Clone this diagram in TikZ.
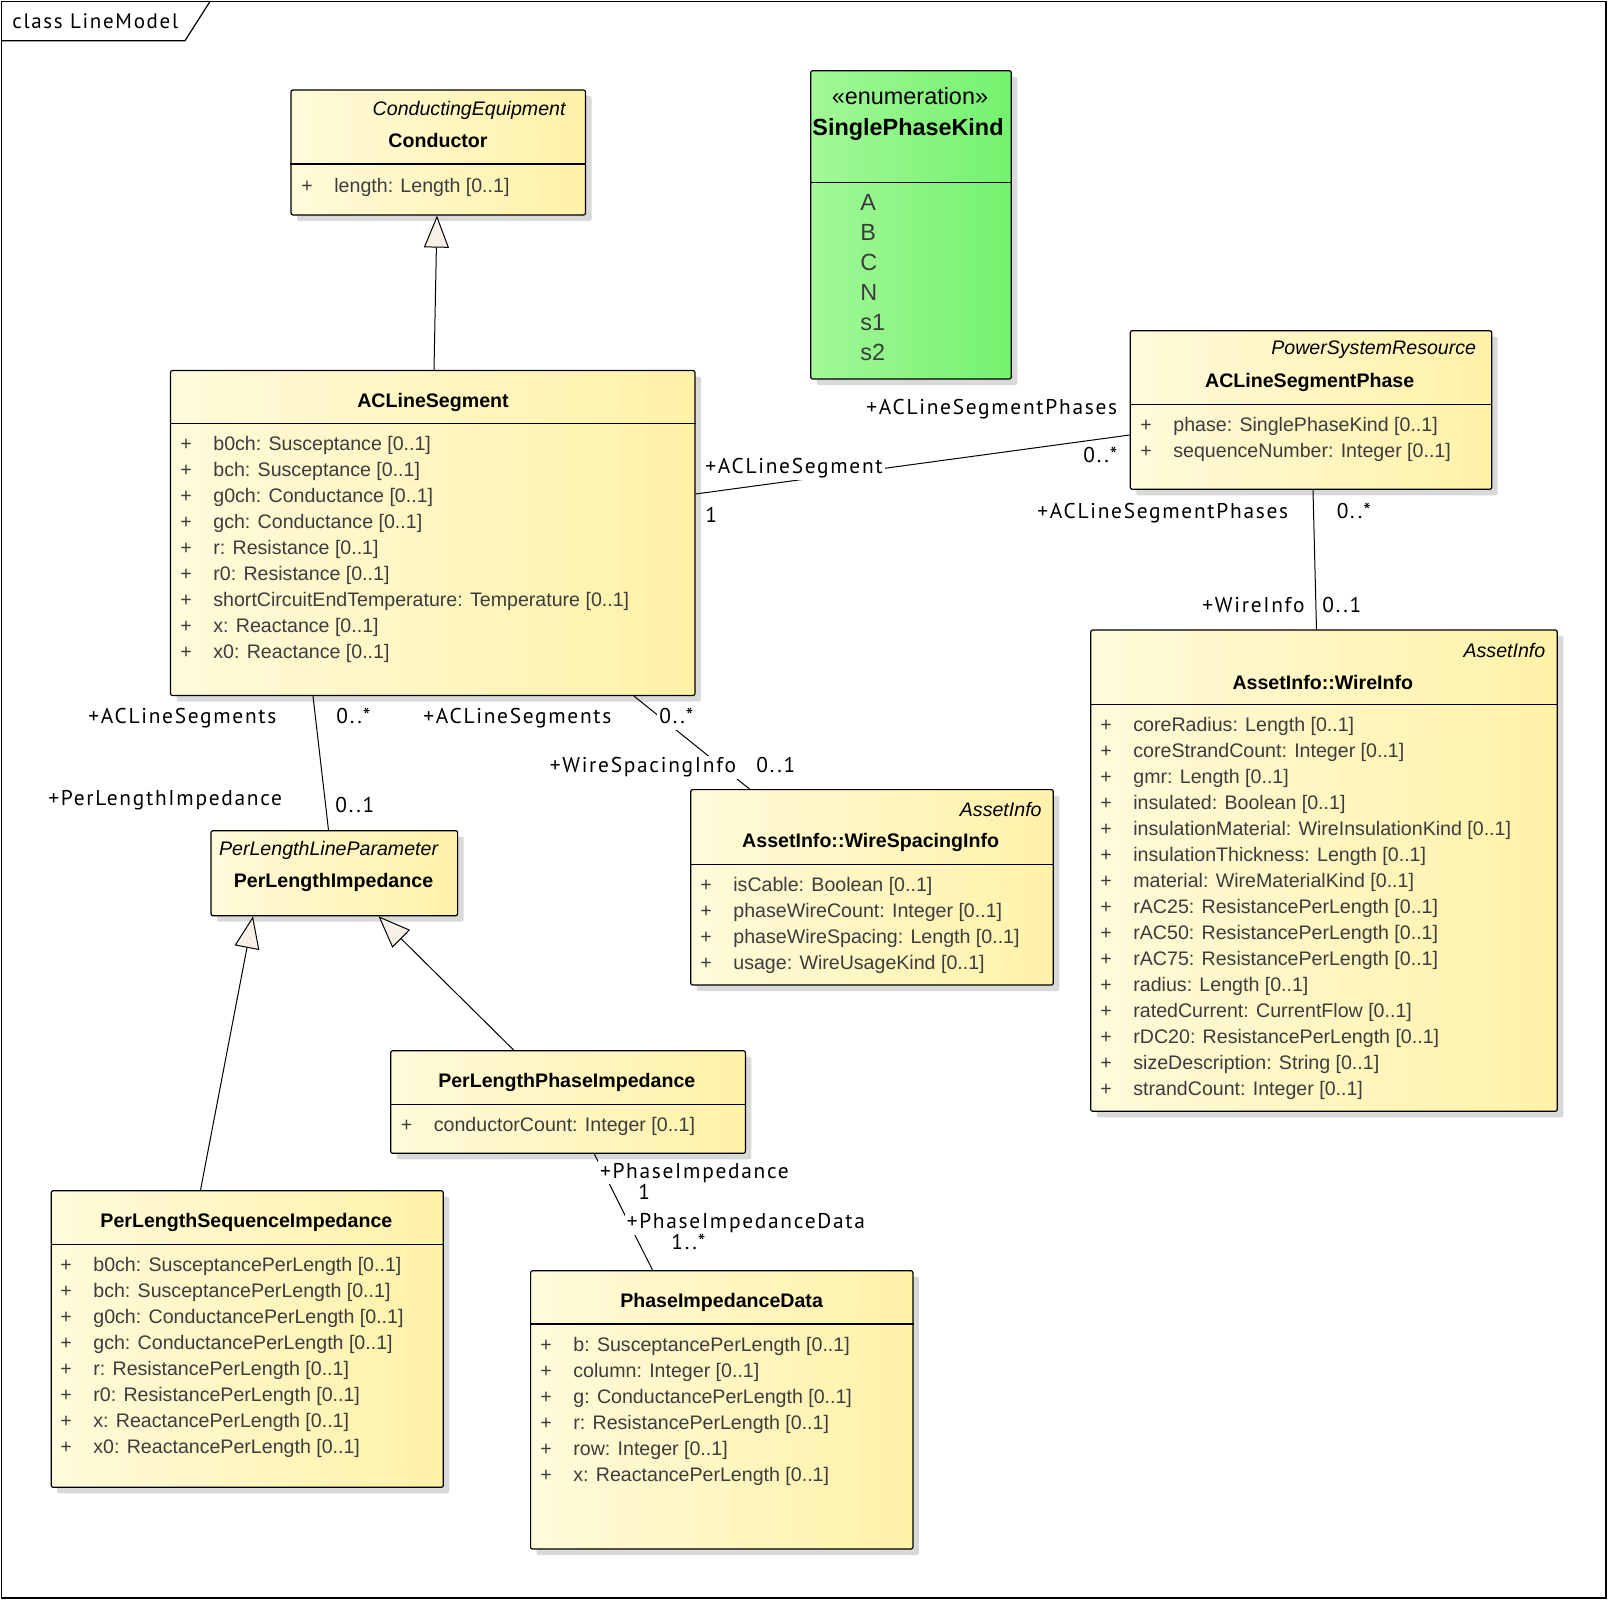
\documentclass[tikz,border=0pt]{standalone}
\usepackage{fontspec}
\setmainfont{Liberation Sans}
\newfontfamily\rolefont{PT Sans}[LetterSpace=8]
\usetikzlibrary{positioning, calc, arrows.meta, shadows, fit}

\definecolor{boxL}{RGB}{255,250,218}
\definecolor{boxR}{RGB}{255,242,168}
\definecolor{enumL}{RGB}{162,248,152}
\definecolor{enumR}{RGB}{116,242,110}
\definecolor{attrgray}{RGB}{60,60,60}
\definecolor{genfill}{RGB}{246,240,232}

\newcommand{\attrsize}{\fontsize{9.8}{12}\selectfont}
\newcommand{\enumsize}{\fontsize{11.7}{14}\selectfont}
\newcommand{\rolesize}{\fontsize{10.7}{13}\selectfont}
\newcommand{\vis}{\makebox[16.5pt][l]{+}}

\tikzset{
  classbox/.style={draw, line width=0.6pt, rounded corners=1pt, inner sep=0pt, left color=boxL, right color=boxR,
    drop shadow={shadow xshift=3pt, shadow yshift=-3pt, fill=black!15, opacity=1}},
  enumbox/.style={classbox, left color=enumL, right color=enumR},
  compline/.style={line width=0.6pt},
  cname/.style={font=\attrsize\bfseries, inner sep=0pt, yshift=-1pt},
  stereo/.style={font=\attrsize\itshape, anchor=east, inner sep=0pt, yshift=-1pt},
  attr/.style={font=\attrsize, text=attrgray, anchor=west, inner sep=0pt, text height=9.2pt, text depth=2pt},
  lit/.style={font=\enumsize, text=attrgray, anchor=base west, inner sep=0pt},
  role/.style={font=\rolefont\rolesize, anchor=west, inner sep=1pt, fill=white, text height=7.5pt, text depth=2pt},
  assoc/.style={draw, line width=0.5pt},
  gen/.style={draw, line width=0.5pt, -{Triangle[fill=genfill, length=16pt, width=12.5pt]}}
}

\begin{document}
\begin{tikzpicture}[x=0.5pt, y=-0.5pt]
  \useasboundingbox (0,0) rectangle (1608,1600);
  \draw[line width=0.6pt] (1.5,1.5) rectangle (1606,1598);
  \draw[line width=0.6pt] (1.5,40.7) -- (185,40.7) -- (210,1.5);
  \node[anchor=west, font=\rolefont\fontsize{10.5}{12}\selectfont, inner sep=0pt] (frame) at (12,21) {class LineModel};

  \node[classbox, fit={(291,90) (585.5,215)}] (cond) {};
  \draw[compline] (cond.west |- 0,164) -- (cond.east |- 0,164);
  \node[stereo] (condS) at (566,108) {ConductingEquipment};
  \node[cname] (condN) at (438,138) {Conductor};
  \node[attr] (cond1) at (301,185) {\vis length: Length [0..1]};

  \node[enumbox, fit={(810.7,70.7) (1011.3,379)}] (spk) {};
  \draw[compline] (spk.west |- 0,182.3) -- (spk.east |- 0,182.3);
  \node[font=\enumsize, inner sep=0pt] (spkS) at (910,96) {«enumeration»};
  \node[font=\enumsize\bfseries, inner sep=0pt] (spkN) at (908,130) {SinglePhaseKind};
  \node[lit] (spk1) at (860,211) {A};
  \node[lit] (spk2) at (860,240.8) {B};
  \node[lit] (spk3) at (860,270.6) {C};
  \node[lit] (spk4) at (860,300.4) {N};
  \node[lit] (spk5) at (860,330.2) {s1};
  \node[lit] (spk6) at (860,360) {s2};

  \node[classbox, fit={(170.5,370.5) (695,695.5)}] (acl) {};
  \draw[compline] (acl.west |- 0,423.5) -- (acl.east |- 0,423.5);
  \node[cname] (aclN) at (433,400) {ACLineSegment};
  \node[attr] (acl1) at (180,443) {\vis b0ch: Susceptance [0..1]};
  \node[attr] (acl2) at (180,469) {\vis bch: Susceptance [0..1]};
  \node[attr] (acl3) at (180,495) {\vis g0ch: Conductance [0..1]};
  \node[attr] (acl4) at (180,521) {\vis gch: Conductance [0..1]};
  \node[attr] (acl5) at (180,547) {\vis r: Resistance [0..1]};
  \node[attr] (acl6) at (180,573) {\vis r0: Resistance [0..1]};
  \node[attr] (acl7) at (180,599) {\vis shortCircuitEndTemperature: Temperature [0..1]};
  \node[attr] (acl8) at (180,625) {\vis x: Reactance [0..1]};
  \node[attr] (acl9) at (180,651) {\vis x0: Reactance [0..1]};

  \node[classbox, fit={(1130.3,330.7) (1491.7,489.3)}] (phase) {};
  \draw[compline] (phase.west |- 0,404.3) -- (phase.east |- 0,404.3);
  \node[stereo] (phaseS) at (1476.5,348) {PowerSystemResource};
  \node[cname] (phaseN) at (1309.7,380) {ACLineSegmentPhase};
  \node[attr] (phase1) at (1140,424.3) {\vis phase: SinglePhaseKind [0..1]};
  \node[attr] (phase2) at (1140,450) {\vis sequenceNumber: Integer [0..1]};

  \node[classbox, fit={(1090.7,630) (1557.3,1111.3)}] (wire) {};
  \draw[compline] (wire.west |- 0,704.3) -- (wire.east |- 0,704.3);
  \node[stereo] (wireS) at (1545.7,648) {AssetInfo};
  \node[cname] (wireN) at (1322.8,680) {AssetInfo::WireInfo};
  \node[attr] (wire1) at (1100,724) {\vis coreRadius: Length [0..1]};
  \node[attr] (wire2) at (1100,750) {\vis coreStrandCount: Integer [0..1]};
  \node[attr] (wire3) at (1100,776) {\vis gmr: Length [0..1]};
  \node[attr] (wire4) at (1100,802) {\vis insulated: Boolean [0..1]};
  \node[attr] (wire5) at (1100,828) {\vis insulationMaterial: WireInsulationKind [0..1]};
  \node[attr] (wire6) at (1100,854) {\vis insulationThickness: Length [0..1]};
  \node[attr] (wire7) at (1100,880) {\vis material: WireMaterialKind [0..1]};
  \node[attr] (wire8) at (1100,906) {\vis rAC25: ResistancePerLength [0..1]};
  \node[attr] (wire9) at (1100,932) {\vis rAC50: ResistancePerLength [0..1]};
  \node[attr] (wire10) at (1100,958) {\vis rAC75: ResistancePerLength [0..1]};
  \node[attr] (wire11) at (1100,984) {\vis radius: Length [0..1]};
  \node[attr] (wire12) at (1100,1010) {\vis ratedCurrent: CurrentFlow [0..1]};
  \node[attr] (wire13) at (1100,1036) {\vis rDC20: ResistancePerLength [0..1]};
  \node[attr] (wire14) at (1100,1062) {\vis sizeDescription: String [0..1]};
  \node[attr] (wire15) at (1100,1088) {\vis strandCount: Integer [0..1]};

  \node[classbox, fit={(690.7,789.6) (1053.3,985)}] (spacing) {};
  \draw[compline] (spacing.west |- 0,864.5) -- (spacing.east |- 0,864.5);
  \node[stereo] (spacingS) at (1042,807) {AssetInfo};
  \node[cname] (spacingN) at (870.6,840) {AssetInfo::WireSpacingInfo};
  \node[attr] (spacing1) at (700,884) {\vis isCable: Boolean [0..1]};
  \node[attr] (spacing2) at (700,910) {\vis phaseWireCount: Integer [0..1]};
  \node[attr] (spacing3) at (700,936) {\vis phaseWireSpacing: Length [0..1]};
  \node[attr] (spacing4) at (700,962) {\vis usage: WireUsageKind [0..1]};

  \node[classbox, fit={(211,830.7) (457.6,915.7)}] (pli) {};
  \node[stereo] (pliS) at (438.5,848) {PerLengthLineParameter};
  \node[cname] (pliN) at (333.5,880) {PerLengthImpedance};

  \node[classbox, fit={(390.7,1050.7) (745.4,1153.3)}] (plpi) {};
  \draw[compline] (plpi.west |- 0,1104.3) -- (plpi.east |- 0,1104.3);
  \node[cname] (plpiN) at (566.8,1080) {PerLengthPhaseImpedance};
  \node[attr] (plpi1) at (400.5,1124.3) {\vis conductorCount: Integer [0..1]};

  \node[classbox, fit={(51.2,1190.7) (443.3,1487.3)}] (plsi) {};
  \draw[compline] (plsi.west |- 0,1244.3) -- (plsi.east |- 0,1244.3);
  \node[cname] (plsiN) at (246.4,1220) {PerLengthSequenceImpedance};
  \node[attr] (plsi1) at (60,1264) {\vis b0ch: SusceptancePerLength [0..1]};
  \node[attr] (plsi2) at (60,1290) {\vis bch: SusceptancePerLength [0..1]};
  \node[attr] (plsi3) at (60,1316) {\vis g0ch: ConductancePerLength [0..1]};
  \node[attr] (plsi4) at (60,1342) {\vis gch: ConductancePerLength [0..1]};
  \node[attr] (plsi5) at (60,1368) {\vis r: ResistancePerLength [0..1]};
  \node[attr] (plsi6) at (60,1394) {\vis r0: ResistancePerLength [0..1]};
  \node[attr] (plsi7) at (60,1420) {\vis x: ReactancePerLength [0..1]};
  \node[attr] (plsi8) at (60,1446) {\vis x0: ReactancePerLength [0..1]};

  \node[classbox, fit={(530.6,1270.7) (912.9,1549)}] (pid) {};
  \draw[compline] (pid.west |- 0,1324) -- (pid.east |- 0,1324);
  \node[cname] (pidN) at (721.6,1300) {PhaseImpedanceData};
  \node[attr] (pid1) at (540,1344) {\vis b: SusceptancePerLength [0..1]};
  \node[attr] (pid2) at (540,1370) {\vis column: Integer [0..1]};
  \node[attr] (pid3) at (540,1396) {\vis g: ConductancePerLength [0..1]};
  \node[attr] (pid4) at (540,1422) {\vis r: ResistancePerLength [0..1]};
  \node[attr] (pid5) at (540,1448) {\vis row: Integer [0..1]};
  \node[attr] (pid6) at (540,1474) {\vis x: ReactancePerLength [0..1]};

  \draw[gen] (acl.north -| 434,0) -- (cond.south -| 437,0);
  \draw[assoc] (acl.east |- 0,494) -- (phase.west |- 0,435);
  \draw[assoc] (phase.south -| 1313,0) -- (wire.north -| 1316.5,0);
  \draw[assoc] (acl.south -| 313,0) -- (pli.north -| 328.5,0);
  \draw[assoc] (acl.south -| 634,0) -- (spacing.north -| 749.5,0);
  \draw[gen] (plsi.north -| 200.5,0) -- (pli.south -| 253,0);
  \draw[gen] (plpi.north -| 513.7,0) -- (pli.south -| 378.5,0);
  \draw[assoc] (plpi.south -| 594.3,0) -- (pid.north -| 652.5,0);

  \node[role] (r1) at (703,468.3) {+ACLineSegment};
  \node[role] (r2) at (703,516.7) {1};
  \node[role] (r3) at (864,409.3) {+ACLineSegmentPhases};
  \node[role] (r4) at (1081,456.7) {0..*};
  \node[role] (r5) at (1035,512.7) {+ACLineSegmentPhases};
  \node[role] (r6) at (1334.4,512.7) {0..*};
  \node[role] (r7) at (1200,606.7) {+WireInfo};
  \node[role] (r8) at (1320,606.7) {0..1};
  \node[role] (r9) at (86,718.3) {+ACLineSegments};
  \node[role] (r10) at (334,718.3) {0..*};
  \node[role] (r11) at (421,718.3) {+ACLineSegments};
  \node[role] (r12) at (657,718.3) {0..*};
  \node[role] (r13) at (547.4,767.3) {+WireSpacingInfo};
  \node[role] (r14) at (754,767.3) {0..1};
  \node[role] (r15) at (46,800) {+PerLengthImpedance};
  \node[role] (r16) at (333,806.7) {0..1};
  \node[role] (r17) at (597.6,1172.7) {+PhaseImpedance};
  \node[role] (r18) at (636,1194) {1};
  \node[role] (r19) at (624.4,1223.3) {+PhaseImpedanceData};
  \node[role] (r20) at (669,1244) {1..*};
\end{tikzpicture}
\end{document}
